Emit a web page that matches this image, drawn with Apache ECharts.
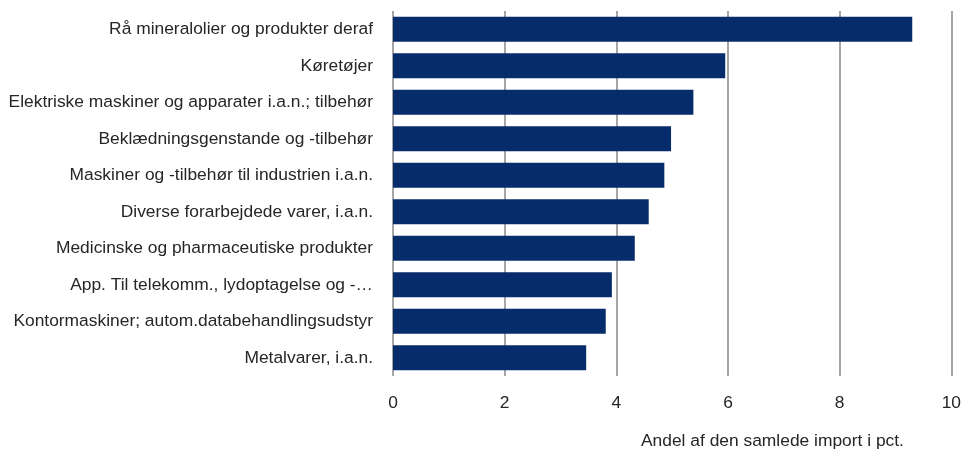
<!DOCTYPE html>
<html>
<head>
<meta charset="utf-8">
<script src="https://cdn.jsdelivr.net/npm/echarts@6/dist/echarts.min.js"></script>
<style>
html, body { margin: 0; padding: 0; background: #fff; }
#chart { width: 964px; height: 450px; }
</style>
</head>
<body>
<div id="chart"></div>
<script>
var categories = [
	'Rå mineralolier og produkter deraf',
	'Køretøjer',
	'Elektriske maskiner og apparater i.a.n.; tilbehør',
	'Beklædningsgenstande og -tilbehør',
	'Maskiner og -tilbehør til industrien i.a.n.',
	'Diverse forarbejdede varer, i.a.n.',
	'Medicinske og pharmaceutiske produkter',
	'App. Til telekomm., lydoptagelse og -…',
	'Kontormaskiner; autom.databehandlingsudstyr',
	'Metalvarer, i.a.n.'
];
var values = [9.30, 5.95, 5.38, 4.98, 4.86, 4.58, 4.33, 3.92, 3.81, 3.46];
var axisTitle = 'Andel af den samlede import i pct.';

var chart = echarts.init(document.getElementById('chart'));
var option = {
	animation: false,
	textStyle: { fontFamily: 'Liberation Sans, Arial, sans-serif' },
	title: {
		text: axisTitle,
		left: 636,
		top: 428,
		textStyle: { fontSize: 17.4, fontWeight: 'normal', color: '#262626', fontFamily: 'Liberation Sans' }
	},
	grid: { left: 393, right: 10, top: 11, bottom: 74 },
	xAxis: {
		type: 'value',
		min: 0,
		max: 10,
		interval: 2,
		axisLine: { show: false },
		axisTick: { show: false },
		axisLabel: { fontSize: 17.4, color: '#262626', margin: 19 },
		splitLine: { lineStyle: { color: '#a6a6a6', width: 2 } }
	},
	yAxis: {
		type: 'category',
		inverse: true,
		data: categories,
		axisLine: { show: false },
		axisTick: { show: false },
		axisLabel: { fontSize: 17.4, color: '#262626', margin: 20 }
	},
	series: [{
		type: 'bar',
		data: values,
		barCategoryGap: '31%',
		itemStyle: { color: '#062c6c' }
	}]
};
chart.setOption(option);
</script>
</body>
</html>
